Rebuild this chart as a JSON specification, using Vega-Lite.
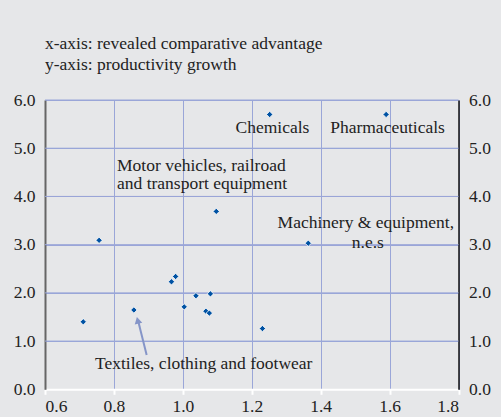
{
  "$schema": "https://vega.github.io/schema/vega-lite/v6.json",
  "width": 413.5,
  "height": 289.3,
  "autosize": {"type": "none"},
  "padding": {"left": 45, "top": 100, "right": 42.5, "bottom": 27.7},
  "background": "#e6e7e9",
  "title": {
    "text": ["x-axis: revealed comparative advantage", "y-axis: productivity growth"],
    "anchor": "start",
    "frame": "group",
    "offset": 18,
    "font": "Liberation Serif",
    "fontSize": 17.5,
    "fontWeight": "normal",
    "color": "#222222",
    "lineHeight": 21
  },
  "config": {
    "view": {"stroke": null},
    "font": "Liberation Serif",
    "axis": {
      "labelFont": "Liberation Serif",
      "labelFontSize": 17.5,
      "labelColor": "#222222",
      "gridColor": "#9aa6d8",
      "gridWidth": 1,
      "gridOpacity": 1,
      "title": null
    }
  },
  "resolve": {"axis": {"y": "independent"}},
  "datasets": {
    "gridY": [
      {"g": 1}, {"g": 2}, {"g": 3}, {"g": 4}, {"g": 5}, {"g": 6}
    ],
    "points": [
      {"rca": 0.711, "growth": 1.40},
      {"rca": 0.757, "growth": 3.09},
      {"rca": 0.858, "growth": 1.645},
      {"rca": 0.967, "growth": 2.23},
      {"rca": 0.979, "growth": 2.34},
      {"rca": 1.004, "growth": 1.71},
      {"rca": 1.038, "growth": 1.94},
      {"rca": 1.067, "growth": 1.62},
      {"rca": 1.077, "growth": 1.58},
      {"rca": 1.080, "growth": 1.98},
      {"rca": 1.097, "growth": 3.69},
      {"rca": 1.231, "growth": 1.26},
      {"rca": 1.252, "growth": 5.70},
      {"rca": 1.590, "growth": 5.70},
      {"rca": 1.364, "growth": 3.03}
    ],
    "labelsCenter": [
      {"rca": 1.260, "growth": 5.415, "label": "Chemicals"},
      {"rca": 1.594, "growth": 5.415, "label": "Pharmaceuticals"},
      {"rca": 1.531, "growth": 3.445, "label": "Machinery & equipment,"},
      {"rca": 1.537, "growth": 3.04, "label": "n.e.s"}
    ],
    "labelsLeft": [
      {"rca": 0.809, "growth": 4.63, "label": "Motor vehicles, railroad"},
      {"rca": 0.809, "growth": 4.25, "label": "and transport equipment"},
      {"rca": 0.745, "growth": 0.52, "label": "Textiles, clothing and footwear"}
    ],
    "arrow": [
      {"x1": 0.895, "y1": 0.71, "x2": 0.871, "y2": 1.40}
    ],
    "arrowHead": [
      {"rca": 0.869, "growth": 1.43}
    ]
  },
  "layer": [
    {
      "data": {"name": "gridY"},
      "mark": {"type": "rule", "color": "#9aa6d8", "strokeWidth": 1},
      "encoding": {
        "y": {
          "field": "g", "type": "quantitative",
          "scale": {"domain": [0, 6], "nice": false},
          "axis": {
            "orient": "left",
            "values": [0, 1, 2, 3, 4, 5, 6],
            "format": ".1f",
            "grid": true,
            "domainColor": "#666666",
            "domainWidth": 2,
            "ticks": false,
            "labelPadding": 10
          }
        }
      }
    },
    {
      "data": {"name": "points"},
      "mark": {"type": "point", "shape": "diamond", "filled": true, "size": 40, "color": "#0052a3", "stroke": "#ffffff", "strokeWidth": 0.8, "opacity": 1},
      "encoding": {
        "x": {
          "field": "rca", "type": "quantitative",
          "scale": {"domain": [0.6, 1.8], "nice": false, "zero": false},
          "axis": {
            "values": [0.6, 0.8, 1.0, 1.2, 1.4, 1.6, 1.8],
            "format": ".1f",
            "grid": true,
            "domainColor": "#ffffff",
            "domainWidth": 2,
            "tickColor": "#ffffff",
            "tickWidth": 2,
            "tickSize": 5,
            "labelPadding": 3
          }
        },
        "y": {
          "field": "growth", "type": "quantitative",
          "axis": {
            "orient": "right",
            "values": [0, 1, 2, 3, 4, 5, 6],
            "format": ".1f",
            "grid": false,
            "domainColor": "#111111",
            "domainWidth": 1.5,
            "ticks": false,
            "labelPadding": 10
          }
        }
      }
    },
    {
      "data": {"name": "labelsCenter"},
      "mark": {"type": "text", "align": "center", "baseline": "middle", "font": "Liberation Serif", "fontSize": 17.5, "color": "#222222"},
      "encoding": {
        "x": {"field": "rca", "type": "quantitative"},
        "y": {"field": "growth", "type": "quantitative", "axis": null},
        "text": {"field": "label"}
      }
    },
    {
      "data": {"name": "labelsLeft"},
      "mark": {"type": "text", "align": "left", "baseline": "middle", "font": "Liberation Serif", "fontSize": 17.5, "color": "#222222"},
      "encoding": {
        "x": {"field": "rca", "type": "quantitative"},
        "y": {"field": "growth", "type": "quantitative", "axis": null},
        "text": {"field": "label"}
      }
    },
    {
      "data": {"name": "arrow"},
      "mark": {"type": "rule", "color": "#8595c8", "strokeWidth": 2},
      "encoding": {
        "x": {"field": "x1", "type": "quantitative"},
        "y": {"field": "y1", "type": "quantitative", "axis": null},
        "x2": {"field": "x2"},
        "y2": {"field": "y2"}
      }
    },
    {
      "data": {"name": "arrowHead"},
      "mark": {"type": "point", "shape": "triangle-up", "filled": true, "size": 60, "angle": 346, "color": "#8595c8", "opacity": 1},
      "encoding": {
        "x": {"field": "rca", "type": "quantitative"},
        "y": {"field": "growth", "type": "quantitative", "axis": null}
      }
    }
  ]
}
